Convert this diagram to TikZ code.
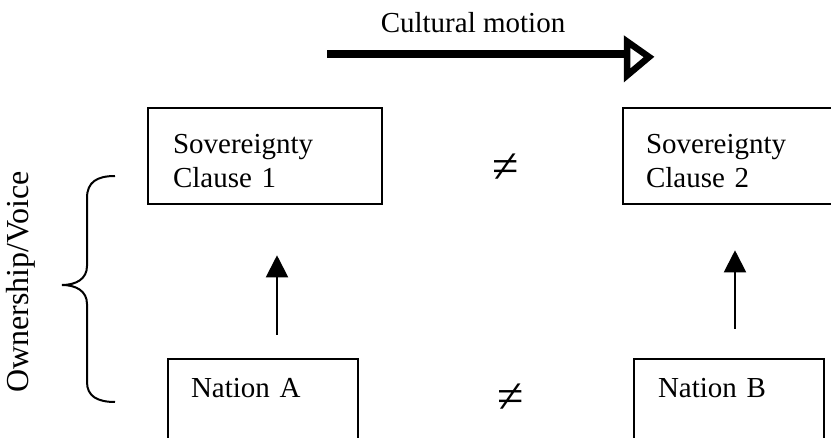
\documentclass[tikz,border=0pt]{standalone}
\usepackage{fontspec}
\setmainfont{Liberation Serif}
\usetikzlibrary{arrows.meta,calc}
\tikzset{
  box/.style={draw, line width=2pt, anchor=north west, align=left, inner ysep=16pt, font=\fontsize{29}{34}\selectfont},
  lbl/.style={font=\fontsize{29}{34}\selectfont, inner sep=0pt},
  neq/.style={font=\fontsize{48}{52}\selectfont, inner sep=0pt},
  uparrow/.style={line width=2pt, -{Triangle[length=22pt,width=22pt]}},
}
\begin{document}
\begin{tikzpicture}[x=1pt,y=-1pt]
\useasboundingbox (0,0) rectangle (831,438);
\clip (0,0) rectangle (831,438);
% boxes
\node[box, inner xsep=25pt, text width=184pt] (s1) at (147,107) {\rule{0pt}{30pt}Sovereignty\\Clause 1};
\node[box, inner xsep=23pt, text width=177pt] (s2) at (622,107) {\rule{0pt}{30pt}Sovereignty\\Clause 2};
\node[box, inner xsep=23pt, inner ysep=10pt, text width=144pt] (na) at (167,358) {\rule[-50pt]{0pt}{79pt}Nation A};
\node[box, inner xsep=24pt, inner ysep=10pt, text width=142pt] (nb) at (633,358) {\rule[-50pt]{0pt}{79pt}Nation B};
% not-equal signs
\node[neq] (ne1) at (506,168) {≠};
\node[neq] (ne2) at (511,398) {≠};
% vertical arrows
\draw[uparrow] ([xshift=14pt,yshift=23pt]na.north) -- ([xshift=12pt,yshift=-50pt]s1.south);
\draw[uparrow] ([xshift=6pt,yshift=29pt]nb.north) -- ([xshift=0.5pt,yshift=-45pt]s2.south);
% cultural motion
\node[lbl, anchor=base] (cm) at (473,33) {Cultural motion};
\coordinate (cmL) at (327,54);
\coordinate (cmR) at (627,54);
\draw[line width=8pt] (cmL) -- (cmR);
\draw[line width=6.5pt, line join=miter, fill=white] (627,41.5) -- (649,57) -- (627,75.5) -- cycle;
% brace
\draw[line width=2pt] (115,176) .. controls (97,176) and (87,182) .. (87,198) -- (87,266)
  .. controls (87,279) and (76,285) .. (62,285)
  .. controls (76,285) and (87,291) .. (87,304) -- (87,382)
  .. controls (87,396) and (97,402) .. (115,402);
\node[lbl, font=\fontsize{32}{36}\selectfont, rotate=90] (ov) at (21,282) {Ownership/Voice};
\end{tikzpicture}
\end{document}
